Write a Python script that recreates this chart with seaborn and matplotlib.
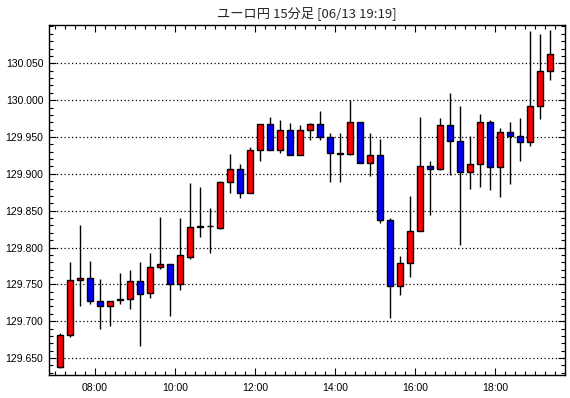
import numpy as np
import pandas as pd
import matplotlib
matplotlib.use("Agg")
import matplotlib.pyplot as plt
from matplotlib.ticker import MultipleLocator, FixedLocator, FuncFormatter
import seaborn as sns

title = "ユーロ円 15分足 [06/13 19:19]"
time_labels = ["08:00", "10:00", "12:00", "14:00", "16:00", "18:00"]
price_ticks = [129.65, 129.70, 129.75, 129.80, 129.85, 129.90, 129.95, 130.00, 130.05]
opens = [129.638, 129.681, 129.756, 129.759, 129.727, 129.721, 129.729, 129.730, 129.755, 129.738,
         129.774, 129.778, 129.751, 129.787, 129.828, 129.829, 129.826, 129.889, 129.906, 129.874,
         129.932, 129.967, 129.933, 129.959, 129.926, 129.959, 129.967, 129.950, 129.928, 129.927,
         129.971, 129.915, 129.925, 129.837, 129.748, 129.779, 129.823, 129.911, 129.907, 129.966,
         129.944, 129.903, 129.913, 129.971, 129.909, 129.957, 129.952, 129.943, 129.992, 130.040]
highs = [129.684, 129.780, 129.830, 129.782, 129.757, 129.728, 129.766, 129.769, 129.780, 129.793,
         129.842, 129.778, 129.840, 129.887, 129.882, 129.853, 129.890, 129.927, 129.914, 129.936,
         129.968, 129.977, 129.973, 129.969, 129.966, 129.969, 129.985, 129.956, 129.956, 130.000,
         129.971, 129.956, 129.947, 129.840, 129.788, 129.870, 129.977, 129.917, 129.976, 130.010,
         129.992, 129.951, 129.981, 129.973, 129.962, 129.970, 129.976, 130.094, 130.090, 130.095]
lows = [129.637, 129.679, 129.720, 129.724, 129.689, 129.694, 129.724, 129.716, 129.667, 129.731,
        129.771, 129.707, 129.743, 129.784, 129.814, 129.792, 129.825, 129.874, 129.867, 129.874,
        129.918, 129.932, 129.928, 129.926, 129.926, 129.946, 129.946, 129.889, 129.889, 129.926,
        129.915, 129.897, 129.833, 129.705, 129.735, 129.760, 129.823, 129.844, 129.905, 129.899,
        129.803, 129.879, 129.882, 129.878, 129.869, 129.886, 129.918, 129.938, 129.975, 130.028]
closes = [129.681, 129.756, 129.759, 129.727, 129.721, 129.728, 129.730, 129.755, 129.737, 129.774,
          129.778, 129.751, 129.790, 129.828, 129.829, 129.829, 129.889, 129.906, 129.874, 129.932,
          129.967, 129.932, 129.959, 129.926, 129.959, 129.967, 129.950, 129.928, 129.927, 129.971,
          129.915, 129.925, 129.837, 129.748, 129.779, 129.823, 129.911, 129.907, 129.966, 129.944,
          129.903, 129.913, 129.971, 129.909, 129.957, 129.952, 129.943, 129.992, 130.040, 130.062]

df = pd.DataFrame({"open": opens, "high": highs, "low": lows, "close": closes})
df["idx"] = np.arange(len(df))
df["bottom"] = df[["open", "close"]].min(axis=1)
df["height"] = (df["close"] - df["open"]).abs()
df["color"] = np.where(df["close"] > df["open"], "#FF0000",
                       np.where(df["close"] < df["open"], "#0000FF", "#000000"))

sns.set_style("white")
plt.rcParams["font.family"] = ["Liberation Sans", "Noto Sans CJK JP", "DejaVu Sans"]

fig = plt.figure(figsize=(5.70, 3.98), dpi=100)
ax = fig.add_axes([49 / 570, 23 / 398, 516 / 570, 350 / 398])

ax.set_xlim(-1.1, 50.5)
ax.set_ylim(129.627, 130.102)

# horizontal dotted grid
for yv in price_ticks:
    ax.axhline(yv, color="black", lw=0.9, ls=(0, (1, 2)), zorder=1)

# wicks
ax.vlines(df["idx"], df["low"], df["high"], color="black", lw=1.0, zorder=2)
# bodies
ax.bar(df["idx"], df["height"], bottom=df["bottom"], width=0.65,
       color=df["color"], edgecolor="black", linewidth=1.0, zorder=3)

for s in ax.spines.values():
    s.set_visible(True)
    s.set_color("black")
    s.set_linewidth(1.0)

ax.yaxis.set_major_locator(FixedLocator(price_ticks))
ax.yaxis.set_minor_locator(MultipleLocator(0.01))
ax.yaxis.set_major_formatter(FuncFormatter(lambda v, p: f"{v:.3f}"))

major_x = [3.5 + 8 * k for k in range(len(time_labels))]
ax.xaxis.set_major_locator(FixedLocator(major_x))
ax.set_xticklabels(time_labels)
ax.xaxis.set_minor_locator(FixedLocator([k - 0.5 for k in range(0, 51)]))

ax.tick_params(axis="both", which="both", direction="in", top=True, right=True,
               bottom=True, left=True, color="black", width=0.8,
               labelsize=7.5, labelcolor="black")
ax.tick_params(axis="both", which="major", length=5, pad=4)
ax.tick_params(axis="both", which="minor", length=3)
ax.tick_params(axis="x", which="major", pad=6)

ax.set_xlabel("")
ax.set_ylabel("")

ax.set_title(title, fontsize=9.5, family=["Noto Sans CJK JP", "DejaVu Sans"], pad=6)

fig.savefig("out.png", dpi=100, facecolor="white")
